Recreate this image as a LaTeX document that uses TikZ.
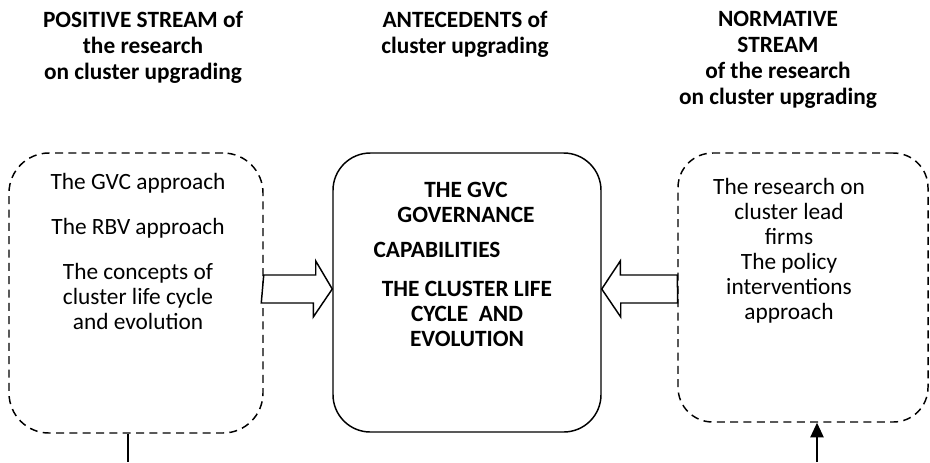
\documentclass[tikz,border=0pt]{standalone}
\usepackage{fontspec}
\setmainfont{Carlito}
\usetikzlibrary{calc,positioning,arrows.meta}

\begin{document}
\begin{tikzpicture}[x=0.75pt, y=-0.75pt, >={Triangle[length=11pt,width=10pt]},
    title/.style={align=center, inner sep=0pt, anchor=north, font=\fontsize{17.5}{19.5}\selectfont\bfseries},
    boxtext/.style={align=center, inner sep=0pt, anchor=north, font=\fontsize{17.5}{18.8}\selectfont},
    boldtext/.style={boxtext, font=\fontsize{17.5}{18.8}\selectfont\bfseries},
    dashbox/.style={draw, dash pattern=on 6pt off 4pt, line width=1.1pt, inner sep=0pt},
    mainbox/.style={draw, line width=1.1pt, inner sep=0pt, rounded corners=28pt},
    blockarrow/.style={draw, fill=white, line width=1.1pt, line join=miter}]
  \useasboundingbox (0,0) rectangle (930,462);

  % headings
  \node[title] (postitle) at (143,11) {POSITIVE STREAM of\\the research\\on cluster upgrading};
  \node[title] (antetitle) at (465,11) {ANTECEDENTS of\\cluster upgrading};
  \node[title] (normtitle) at (778,11) {NORMATIVE\\STREAM\\of the research\\on cluster upgrading};

  % boxes
  \node[dashbox, rounded corners=30pt, minimum width=190.5pt, minimum height=210pt] (lbox) at (136,293) {};
  \node[mainbox, minimum width=201pt, minimum height=209.25pt] (cbox) at (467,292.5) {};
  \node[dashbox, rounded corners=26pt, minimum width=187.5pt, minimum height=201.75pt] (rbox) at (803,287.5) {};

  % box contents
  \node[boxtext] (ltext) at (138,173) {The GVC approach\\[15pt]The RBV approach\\[15pt]The concepts of\\cluster life cycle\\and evolution};
  \node[boldtext] (govtext) at (466,182) {THE GVC\\GOVERNANCE};
  \node[boldtext] (captext) at (437,242) {CAPABILITIES};
  \node[boldtext] (lifetext) at (467,281) {THE CLUSTER LIFE\\CYCLE~~AND\\EVOLUTION};
  \node[boxtext] (rtext) at (789,178) {The research on\\cluster lead\\firms\\The policy\\interventions\\approach};

  % block arrows into the antecedents
  \coordinate (mid) at (0,289);
  \draw[blockarrow] (lbox.east |- mid) ++(0,-14) -- ++(52,0) -- ++(0,-14) -- (cbox.west |- mid)
    -- ++(-19,28) -- ++(0,-14) -- ++(-52,0) -- cycle;
  \draw[blockarrow] (rbox.west |- mid) ++(0,-14) -- ++(-57,0) -- ++(0,-14) -- (cbox.east |- mid)
    -- ++(19,28) -- ++(0,-14) -- ++(57,0) -- cycle;

  % lines at the bottom
  \coordinate (lout) at (128,462);
  \coordinate (rin) at (817,462);
  \draw[line width=1.1pt] (lbox.south -| lout) -- (lout);
  \draw[->, line width=1.1pt] (rin) -- (rbox.south -| rin);
\end{tikzpicture}
\end{document}
